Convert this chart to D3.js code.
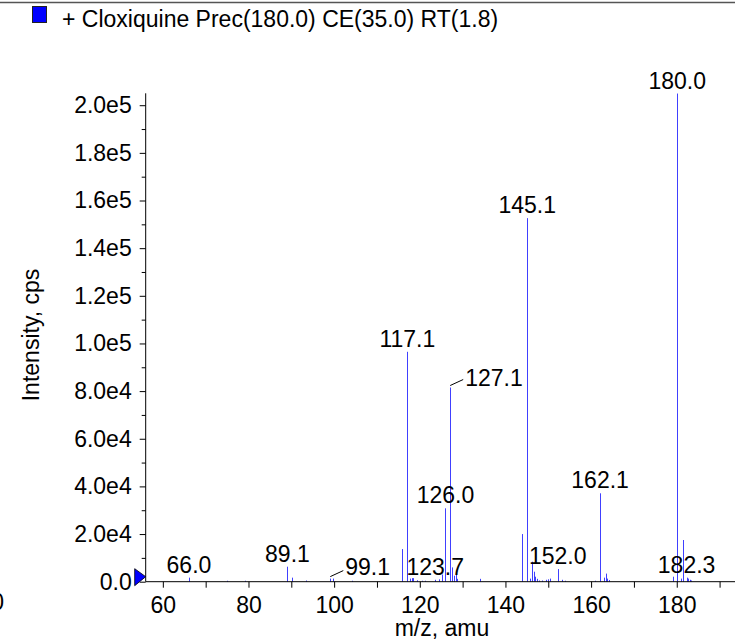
<!DOCTYPE html>
<html><head><meta charset="utf-8">
<script src="https://cdn.jsdelivr.net/npm/d3@7"></script>
<style>
html,body{margin:0;padding:0;background:#fff;}
svg{display:block;font-family:"Liberation Sans",Arial,Helvetica,sans-serif;}
</style></head>
<body>
<svg id="chart" width="735" height="640"></svg>
<script>
// ---- data ----
const legendText = "+ Cloxiquine Prec(180.0) CE(35.0) RT(1.8)";
const xTitle = "m/z, amu";
const yTitle = "Intensity, cps";
const peakMz = [66.1,75.1,79.3,89.1,90.1,93.4,99.1,99.8,104.1,
  115.9,117.1,117.8,118.1,118.4,119.4,120.5,121.2,123.6,124.6,125.1,126.0,127.1,127.5,128.1,128.4,128.7,134.1,
  143.96,145.1,145.8,146.3,146.6,146.9,147.3,147.9,148.6,149.4,150.0,150.4,152.2,153.2,153.9,
  160.9,162.1,162.9,163.4,163.8,164.1,179.2,180.1,180.9,181.5,182.3,182.6,183.0,183.4];
const peakInt = [1700,400,400,6300,1700,500,1300,1300,400,
  13700,96500,1300,1500,1500,600,400,400,800,1000,3000,30800,81500,6000,2500,3300,1200,1200,
  20000,152600,1300,8400,4200,2100,1200,500,500,800,1000,1300,5300,800,400,
  400,37100,1700,3400,1300,700,2100,204900,1300,17500,1700,1300,800,500];
const labelText = ["66.0","89.1","99.1","117.1","123.7","126.0","127.1","145.1","152.0","162.1","180.0","182.3"];
const labelMz    = [66.1, 89.1, 99.1, 117.1, 123.6, 126.0, 127.1, 145.1, 152.2, 162.1, 180.1, 182.3];
const labelInt   = [1700, 6300, 1300, 96500, 800, 30800, 81500, 152600, 5300, 37100, 204900, 1700];
const labelLeader = [false,false,true,false,false,false,true,false,false,false,false,false];
const xMajorTicks = [60,80,100,120,140,160,180];
const xMinorTicks = [70,90,110,130,150,170,190];
const yMajorTicks = [0,20000,40000,60000,80000,100000,120000,140000,160000,180000,200000];
const yMajorLabels = ["0.0","2.0e4","4.0e4","6.0e4","8.0e4","1.0e5","1.2e5","1.4e5","1.6e5","1.8e5","2.0e5"];
const yMinorTicks = [10000,30000,50000,70000,90000,110000,130000,150000,170000,190000];

// ---- layout ----
const svg = d3.select("#chart");
const x = d3.scaleLinear().domain([56, 193.6]).range([145.7, 735]);
const y = d3.scaleLinear().domain([0, 205000]).range([581.7, 93.3]);
const FS = 23;

// top border
svg.append("line").attr("x1",0).attr("x2",735).attr("y1",2.5).attr("y2",2.5)
  .attr("stroke","#555").attr("stroke-width",1.5);

// legend
svg.append("rect").attr("x",32.5).attr("y",6.5).attr("width",14).attr("height",16)
  .attr("fill","#0000ff").attr("stroke","#222").attr("stroke-width",1);
svg.append("text").attr("x",62).attr("y",27).attr("font-size",23).attr("fill","#000").text(legendText);

// peaks
const g = svg.append("g");
g.selectAll("line.pk").data(peakMz).join("line").attr("class","pk")
  .attr("x1",(d)=>Math.round(x(d))+0.5).attr("x2",(d)=>Math.round(x(d))+0.5)
  .attr("y1",y(0)).attr("y2",(d,i)=>y(peakInt[i]))
  .attr("stroke","#4040ff").attr("stroke-width",1);

// x axis
const xAxis = d3.axisBottom(x).tickValues(xMajorTicks).tickSize(6).tickPadding(9).tickFormat(d3.format("d"));
const gx = svg.append("g").attr("transform",`translate(0,${y(0)})`).call(xAxis);
gx.select(".domain").remove();
gx.append("line").attr("x1",145.7).attr("x2",735).attr("y1",0).attr("y2",0).attr("stroke","#000");
gx.selectAll("text").attr("font-size",FS).attr("fill","#000").attr("font-family","Liberation Sans, Arial, sans-serif");
const xMinor = d3.axisBottom(x).tickValues(xMinorTicks).tickSize(6).tickFormat("");
const gxm = svg.append("g").attr("transform",`translate(0,${y(0)})`).call(xMinor);
gxm.select(".domain").remove();

// y axis
const yAxis = d3.axisLeft(y).tickValues(yMajorTicks).tickSize(6).tickPadding(8)
  .tickFormat((d,i)=>yMajorLabels[i]);
const gy = svg.append("g").attr("transform",`translate(${x(56)},0)`).call(yAxis);
gy.select(".domain").remove();
gy.append("line").attr("x1",0).attr("x2",0).attr("y1",y(0)).attr("y2",y(205000)).attr("stroke","#000");
gy.selectAll("text").attr("font-size",FS).attr("fill","#000").attr("font-family","Liberation Sans, Arial, sans-serif");
const yMinor = d3.axisLeft(y).tickValues(yMinorTicks).tickSize(4).tickFormat("");
const gym = svg.append("g").attr("transform",`translate(${x(56)},0)`).call(yMinor);
gym.select(".domain").remove();

// zero marker triangle
const tx = x(56), ty = y(0);
svg.append("path").attr("d",`M${tx-11},${ty-13}L${tx-11},${ty+4}L${tx},${ty-5}Z`)
  .attr("fill","#0000ff").attr("stroke","#000").attr("stroke-width",0.8);

// peak labels
labelText.forEach((t,i)=>{
  const px = x(labelMz[i]), py = y(labelInt[i]);
  if (labelLeader[i]) {
    svg.append("line").attr("x1",px).attr("y1",py-2).attr("x2",px+13).attr("y2",py-8)
      .attr("stroke","#000").attr("stroke-width",1);
    svg.append("text").attr("x",px+15).attr("y",Math.min(py-2,575)).attr("font-size",FS)
      .attr("fill","#000").text(t);
  } else {
    svg.append("text").attr("x",px).attr("y",Math.min(py-5,575)).attr("font-size",FS)
      .attr("text-anchor","middle").attr("fill","#000").text(t);
  }
});

// axis titles
svg.append("text").attr("x",442).attr("y",636).attr("font-size",FS).attr("text-anchor","middle").attr("fill","#000").text(xTitle);
svg.append("text").attr("transform","translate(39,335) rotate(-90)").attr("font-size",FS)
  .attr("text-anchor","middle").attr("fill","#000").text(yTitle);

// clipped tick label at far left
svg.append("text").attr("x",4).attr("y",610).attr("font-size",FS).attr("text-anchor","end").attr("fill","#000").text("0");
</script>
</body></html>
